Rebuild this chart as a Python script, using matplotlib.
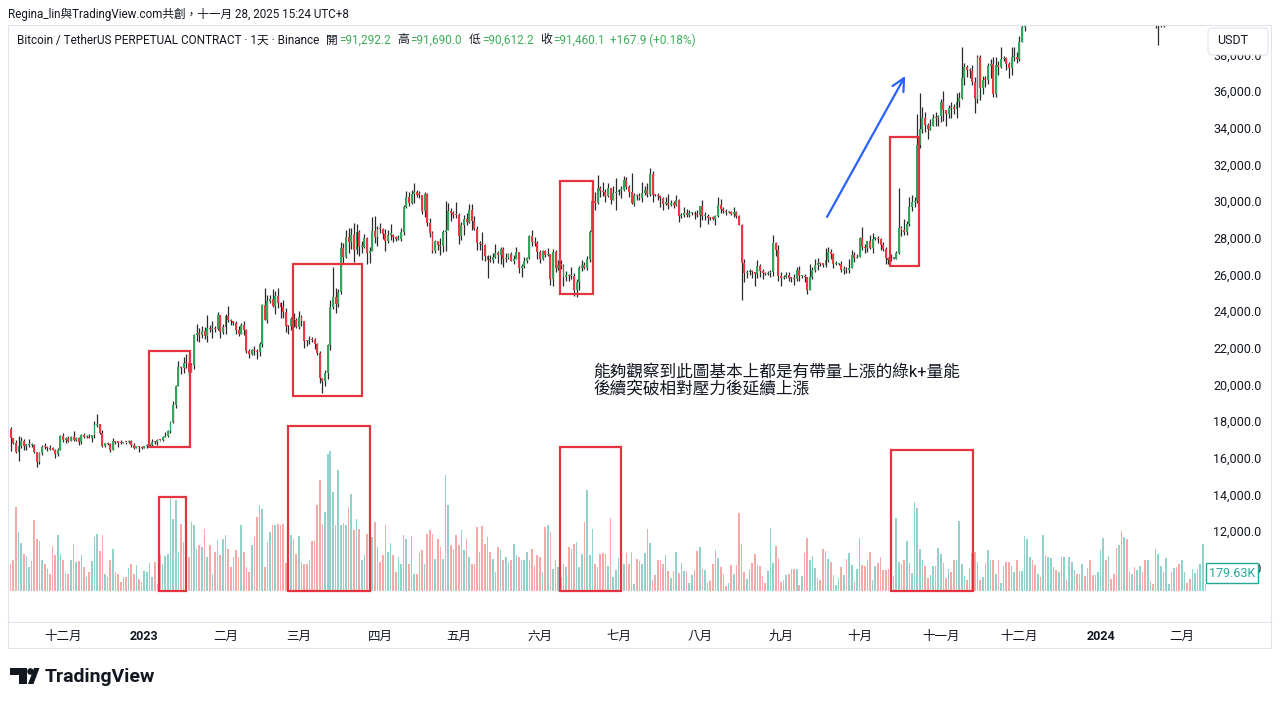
import numpy as np
import pandas as pd
import matplotlib
matplotlib.use("Agg")
import matplotlib.pyplot as plt
import matplotlib.dates as mdates
import matplotlib.transforms as mtransforms
from matplotlib.patches import Rectangle, Polygon, Circle, FancyBboxPatch
from matplotlib.lines import Line2D

plt.rcParams['font.family'] = ['Roboto', 'Noto Sans CJK TC']

# ---------------- data (daily BTCUSDT perp) ----------------
start_date = "2022-11-11"
first_open = 17580

closes = [
    # 2022-11 (from 11th)
    17070, 16810, 16330, 16620, 16900, 16660, 16690, 16700, 16700, 16280, 15780, 16230, 16600, 16590, 16520, 16460, 16440, 16220, 16440, 17160,
    # 2022-12
    16980, 17090, 16890, 17110, 16970, 17090, 16840, 17220, 17130, 17130, 17090, 17210, 17780, 17810, 17360, 16630, 16780, 16740, 16440, 16900, 16830, 16820, 16780, 16840, 16830, 16920, 16700, 16550, 16630, 16600, 16540,
    # 2023-01
    16620, 16670, 16670, 16850, 16830, 16950, 16940, 17120, 17180, 17440, 17940, 18850, 19930, 20950, 20870, 21170, 21160, 20680, 21070, 22670, 22780, 22710, 22920, 22630, 23060, 23010, 23080, 23030, 23770, 22840, 23130,
    # 2023-02
    23730, 23490, 23430, 23330, 22940, 22760, 23260, 22960, 21800, 21630, 21860, 21790, 21780, 22200, 24330, 23520, 24570, 24630, 24280, 24840, 24450, 24190, 23950, 23190, 23160, 23560, 23490, 23140,
    # 2023-03
    23650, 23470, 22360, 22350, 22430, 22410, 22200, 21710, 20360, 20190, 20630, 22160, 24200, 24750, 24380, 25050, 27420, 26970, 28040, 27770, 28170, 27300, 28330, 27490, 27490, 28000, 27140, 27270, 28350, 28030, 28470,
    # 2023-04
    28450, 28200, 27790, 28170, 28170, 28030, 27920, 27950, 28330, 29650, 30230, 29890, 30400, 30490, 30320, 30310, 29430, 30390, 28820, 28250, 27270, 27820, 27590, 27520, 28300, 28420, 29480, 29340, 29250, 29230,
    # 2023-05
    28070, 28680, 29030, 28850, 29530, 28900, 28450, 27690, 27630, 27620, 26990, 26800, 26780, 26930, 27170, 27040, 27400, 26830, 26890, 27100, 26750, 26850, 27220, 26330, 26480, 26720, 26870, 28090, 27740, 27700, 27210,
    # 2023-06
    26820, 27250, 27070, 27120, 25760, 27240, 26340, 26500, 26480, 25850, 25940, 25900, 25920, 25120, 25580, 26330, 26510, 26340, 26840, 28310, 30020, 29900, 30690, 30550, 30480, 30270, 30690, 30080, 30450, 30470,
    # 2023-07
    30590, 30620, 31160, 30770, 30510, 29900, 30350, 30290, 30170, 30410, 30620, 30390, 31480, 30330, 30300, 30250, 30140, 29860, 29910, 29800, 29910, 29800, 30080, 29180, 29230, 29350, 29210, 29320, 29360, 29280, 29230,
    # 2023-08
    29700, 29180, 29180, 29070, 29060, 29040, 29180, 29770, 29570, 29430, 29400, 29420, 29280, 29400, 29170, 28700, 26620, 26050, 26100, 26190, 26120, 26040, 26430, 26170, 26050, 26010, 26090, 26100, 27720, 27300, 25930,
    # 2023-09
    25800, 25870, 25970, 25820, 25780, 25750, 26240, 25900, 25900, 25830, 25160, 25840, 26220, 26530, 26600, 26570, 26530, 26760, 27210, 27130, 26570, 26580, 26580, 26250, 26300, 26210, 26350, 27030, 26910, 26970,
    # 2023-10
    27990, 27500, 27430, 27790, 27410, 27950, 27970, 27940, 27590, 27390, 26870, 26760, 26860, 26860, 27160, 28520, 28420, 28330, 28720, 29680, 29920, 30000, 33080, 33900, 34500, 34160, 33910, 34090, 34540, 34500, 34640,
    # 2023-11
    35420, 34940, 34730, 35080, 35050, 35040, 35420, 35630, 36700, 37320, 37140, 37070, 36490, 35550, 37880, 36160, 36600, 36590, 37390, 37480, 35810, 37420, 37290, 37720, 37800, 37480, 37250, 37830, 37860, 37720,
    # 2023-12
    38690, 39470, 39980, 41990, 44100, 43780, 43290, 44170, 43730, 43800, 41240, 41490, 42870, 43020, 41940, 42260, 41370, 42660, 42270, 43660, 43860, 43990, 43740, 43020, 43600, 42520, 43440, 42580, 42070, 42140, 42280,
    # 2024-01
    44180, 44950, 42850, 44180, 44160, 43970, 43930, 46970, 46120, 46660, 46340, 42780, 42840, 41730, 42500, 43140, 42740, 41260, 41620, 41660, 41580, 39530, 39890, 40080, 39930, 41820, 42120, 41820, 43300, 42950, 42580,
    # 2024-02
    43080, 43190, 43000, 42580, 42700, 43090, 44340, 45290, 47130, 47750,
]

highs = [
    17650, 17080, 16950, 17190, 17130, 16990, 16730, 16990, 16810, 16750, 16300, 16280, 16700, 16810, 16610, 16680, 16600, 16490, 16530, 17250,
    17320, 17110, 17160, 17200, 17430, 17110, 17140, 17300, 17360, 17230, 17270, 17240, 18000, 18390, 17850, 17530, 16800, 16860, 16810, 17060, 16910, 16860, 16950, 16860, 16850, 16940, 16960, 16780, 16660, 16640, 16640,
    16630, 16760, 16770, 17000, 16880, 17010, 16970, 17170, 17400, 17490, 18000, 19100, 19970, 21260, 21000, 21470, 21640, 21650, 21170, 22740, 23300, 23070, 23160, 23150, 23780, 23240, 23480, 23170, 23950, 23800, 23300,
    23810, 24250, 23580, 23480, 23430, 23160, 23350, 23440, 23010, 21920, 21900, 22070, 21900, 22320, 24370, 25250, 24870, 24880, 25190, 25100, 25270, 24480, 24590, 24140, 23230, 23680, 23880, 23600,
    24000, 23770, 23480, 22410, 22610, 22560, 22530, 22270, 21810, 20350, 20800, 22180, 24600, 26400, 25230, 25220, 27740, 27720, 28400, 28500, 28500, 28800, 28740, 28400, 27800, 28200, 28030, 27510, 29150, 29170, 28650,
    28800, 28530, 28480, 28430, 28750, 28200, 28100, 28170, 28520, 29760, 30550, 30480, 30600, 31000, 30600, 30550, 30340, 30480, 30420, 29090, 28370, 27880, 27820, 28000, 28390, 30000, 29880, 29600, 29450, 29960,
    29330, 28880, 29260, 29370, 29850, 29820, 29170, 28650, 27830, 28320, 27650, 27070, 27030, 27180, 27650, 27270, 27480, 27480, 27160, 27140, 27240, 27030, 27480, 27220, 26580, 26920, 26940, 28170, 28420, 28030, 27830,
    27330, 27310, 27300, 27440, 27130, 27370, 27350, 26800, 26780, 26540, 26200, 26000, 26410, 26080, 25750, 26470, 26780, 26690, 26980, 28400, 30800, 30500, 31430, 30810, 31050, 30660, 31000, 30700, 30830, 31280,
    30660, 30790, 31380, 31330, 30880, 31500, 30440, 30380, 30440, 31040, 30800, 30980, 31810, 31640, 30390, 30450, 30340, 30240, 30200, 30400, 30060, 30000, 30320, 30090, 29370, 29680, 29560, 29530, 29420, 29450, 29530,
    29740, 30050, 29410, 29310, 29110, 29160, 29240, 30200, 30130, 29690, 29540, 29460, 29440, 29660, 29430, 29240, 28770, 26820, 26250, 26270, 26250, 26130, 26800, 26550, 26300, 26120, 26170, 26230, 28140, 27760, 27580,
    26140, 25970, 26100, 26100, 25880, 26030, 26420, 26430, 25940, 25990, 25880, 26550, 26390, 26850, 26870, 26680, 26620, 27420, 27490, 27380, 27160, 26720, 26640, 26740, 26430, 26380, 26840, 27300, 27230, 27090,
    28060, 28600, 27650, 27830, 28130, 28270, 28030, 28100, 27990, 27740, 27480, 26950, 27100, 26960, 27280, 30700, 28610, 28990, 28900, 30200, 30330, 30190, 34740, 35900, 35130, 34840, 34250, 34480, 34760, 34850, 34700,
    35560, 35980, 34940, 35250, 35380, 35270, 35880, 35970, 38400, 37520, 37410, 37230, 37400, 36750, 37980, 37960, 36800, 36820, 37520, 37760, 37850, 37850, 37650, 38400, 37890, 37830, 37580, 38390, 38420, 38150,
    38990, 39700, 40200, 42420, 44490, 44300, 44050, 44700, 44370, 44050, 43800, 42100, 43450, 43410, 43090, 42720, 42440, 42760, 43480, 44280, 44220, 44400, 43980, 43950, 43780, 43600, 43680, 43790, 43120, 42600, 42880,
    44200, 45900, 45500, 44770, 44350, 44230, 44500, 47250, 47900, 47700, 48970, 46500, 43250, 43080, 43400, 43580, 43200, 42930, 42200, 41880, 41870, 41680, 40150, 40500, 40270, 42220, 42200, 42830, 43310, 43880, 43740,
    43290, 43490, 43380, 43120, 43500, 43400, 44500, 45600, 48200, 48170,
]

lows = [
    16360, 16760, 16250, 15820, 16550, 16410, 16420, 16560, 16560, 16230, 15480, 15640, 16150, 16460, 16350, 16400, 16400, 16000, 16100, 16430,
    16860, 16790, 16870, 16880, 16910, 16910, 16690, 16740, 17080, 17090, 17070, 16870, 17080, 17660, 17280, 16580, 16580, 16680, 16300, 16400, 16750, 16570, 16760, 16780, 16740, 16780, 16600, 16460, 16500, 16330, 16470,
    16500, 16550, 16600, 16650, 16750, 16680, 16900, 16910, 17100, 17150, 17320, 17900, 18720, 19890, 20560, 20610, 20880, 20430, 20660, 20860, 22360, 22300, 22520, 22470, 22330, 22870, 22550, 22850, 22980, 22550, 22730,
    22760, 23380, 23230, 23260, 22770, 22630, 22740, 22680, 21700, 21450, 21600, 21620, 21360, 21550, 22060, 23500, 23350, 24450, 24220, 23860, 24150, 23600, 23630, 22850, 22740, 22970, 23110, 23050,
    23030, 23200, 21980, 22100, 22210, 22300, 21940, 21600, 20050, 19550, 19900, 20300, 21880, 24100, 23900, 24200, 24900, 26640, 26880, 27150, 27370, 26650, 27110, 27020, 27170, 27410, 26560, 26630, 27250, 27720, 27550,
    28250, 27900, 27250, 27690, 27850, 27760, 27800, 27880, 27810, 28170, 29630, 29710, 29850, 29880, 30240, 30140, 29280, 29100, 28620, 28030, 27150, 27140, 27340, 27050, 27200, 27250, 28390, 28900, 29090, 29080,
    27680, 27880, 28120, 28680, 28820, 28400, 28400, 27330, 27350, 26790, 26750, 25800, 26690, 26600, 26880, 26590, 26560, 26380, 26650, 26850, 26700, 26540, 26820, 26080, 25870, 26350, 26620, 26850, 27560, 27570, 26850,
    26600, 26780, 26950, 26990, 25400, 25370, 26130, 26230, 26290, 25380, 25630, 25630, 25720, 24820, 24760, 25170, 26180, 26300, 26260, 26660, 28270, 29520, 29820, 30230, 30270, 29920, 30220, 29860, 30050, 29500,
    30320, 30180, 30570, 30640, 30230, 29850, 29700, 30070, 30050, 29950, 30300, 30240, 30250, 29940, 30250, 30080, 29680, 29530, 29760, 29580, 29730, 29640, 29750, 28860, 29060, 29100, 29100, 29130, 29260, 29040, 29110,
    28600, 28950, 28960, 28750, 28970, 28960, 28700, 29110, 29370, 29330, 29250, 29350, 29250, 29100, 29070, 28700, 24600, 25600, 25780, 25980, 25800, 25350, 25790, 25850, 25770, 25980, 25960, 25880, 25910, 27020, 25660,
    25340, 25730, 25800, 25620, 25570, 25400, 25610, 25650, 25800, 25590, 24900, 25140, 25760, 26130, 26230, 26480, 26410, 26390, 26670, 26850, 26370, 26500, 26530, 26120, 25990, 26080, 26090, 26330, 26670, 26890,
    26950, 27320, 27160, 27240, 27360, 27180, 27860, 27690, 27310, 27290, 26560, 26540, 26700, 26820, 26830, 27110, 28100, 28150, 28170, 28620, 29480, 29690, 29900, 32880, 33690, 33770, 33400, 33870, 34080, 34080, 34090,
    34310, 34360, 34100, 34540, 34540, 34750, 34530, 35130, 35570, 36350, 36770, 36730, 36350, 34800, 35360, 35500, 35850, 36200, 36400, 36720, 35650, 35670, 36880, 37270, 37620, 37150, 36730, 36880, 37620, 37510,
    37620, 38650, 39280, 39970, 41420, 43340, 42820, 43080, 43600, 43560, 40200, 40680, 40600, 41420, 41680, 41720, 41250, 40530, 41800, 42180, 43330, 43400, 43320, 42750, 42750, 41630, 42100, 42310, 41300, 41520, 41970,
    42180, 44200, 40750, 42650, 42600, 43400, 43650, 43200, 44300, 44750, 45600, 41500, 42440, 41720, 41700, 42050, 42200, 40680, 40280, 41450, 41490, 39440, 38500, 39500, 39490, 39810, 41400, 41650, 41800, 42700, 42300,
    41880, 42600, 42900, 42250, 42250, 42600, 42800, 44330, 45250, 46800,
]

# daily volume, thousand BTC (2022-11-11 .. 2023-07-08)
vol_first = [
    270, 310, 840, 590, 480, 370, 350, 240, 300, 710,
    520, 500, 310, 270, 220, 170, 450, 360, 560,
    370, 310, 180, 170, 310, 470, 290, 300, 360, 240,
    140, 190, 300, 540, 570, 400, 560, 170, 140, 310,
    420, 190, 170, 90, 140, 140, 230, 270, 170,
    260, 120, 90, 200, 190, 280, 140, 290, 70, 360,
    270, 350, 370, 930, 720, 910, 390, 670, 490, 340,
    340, 690, 660, 420, 460, 440, 620, 340, 460, 170,
    390, 510, 360, 520, 560, 420, 240, 340, 410,
    340, 660, 390, 240, 190, 460, 540, 740, 860, 820,
    240, 490, 590, 660, 660, 670, 660, 670, 280, 420,
    560, 520, 370, 550, 290, 270, 270, 310, 500, 500,
    860, 1110, 670, 790, 1370, 1400, 990, 660, 1210, 660,
    680, 660, 840, 970, 610, 720, 620, 310, 360, 570,
    520, 540, 690, 440, 290, 360, 660, 390, 480, 360,
    190, 340, 270, 560, 520, 270, 550, 170, 170,
    380, 410, 270, 570, 610, 570, 320, 520, 440, 320,
    1160, 860, 460, 410, 560, 460, 610, 410, 520,
    340, 270, 270, 640, 390, 650, 470, 540, 390, 320,
    190, 440, 410, 310, 340, 290, 310, 470, 360,
    340, 310, 310, 390, 310, 420, 260, 360, 340,
    190, 640, 660, 590, 220, 310, 240, 140, 270, 240,
    440, 420, 470, 490, 240, 370, 690, 1010, 360,
    620, 270, 240, 370, 380, 370, 250, 730, 140, 210,
    330, 270, 270, 380, 270, 390, 70, 320,
]
# daily volume, thousand BTC (2023-07-09 .. 2024-02-10)
vol_second = [
    300,
    270, 380, 620, 480, 110, 160, 310, 310, 270, 360,
    200, 130, 200, 390, 180, 280, 200, 200, 80, 160,
    210, 400, 440, 220, 210, 80, 100, 270, 410, 330,
    240, 170, 50, 80, 260, 170, 260, 780, 470, 190,
    120, 220, 280, 370, 260, 250, 150, 80, 200, 630,
    280, 450, 330, 90, 110, 160, 170, 220, 220, 220,
    60, 150, 380, 530, 310, 350, 230, 130, 110, 420,
    400, 320, 290, 160, 60, 130, 240, 160, 320, 380,
    260, 90, 220, 530, 260, 250, 310, 390, 110, 250,
    280, 340, 210, 210, 220, 150, 150, 730, 290, 270,
    310, 500, 280, 180, 890, 830, 420, 310, 250, 130,
    160, 250, 250, 430, 370, 280, 130, 220, 190, 310,
    310, 700, 270, 150, 110, 230, 380, 390, 290, 110,
    140, 280, 410, 310, 310, 170, 310, 80, 250, 290,
    290, 250, 190, 310, 200, 200, 550, 520, 340, 310,
    260, 170, 140, 560, 360, 340, 330, 240, 210, 190,
    340, 340, 110, 340, 290, 210, 170, 170, 270, 150,
    230, 310, 160, 160, 190, 410, 530, 310, 350, 120,
    170, 430, 460, 600, 540, 520, 190, 170, 240, 210,
    250, 190, 310, 310, 90, 70, 420, 370, 250, 190,
    330, 70, 190, 230, 240, 270, 310, 190, 80, 120,
    220, 180, 220, 270, 470, 70,
]
volumes = vol_first + vol_second
last_volume_k = 179.63

month_labels = ["十二月", "2023", "二月", "三月", "四月", "五月", "六月", "七月",
                "八月", "九月", "十月", "十一月", "十二月", "2024", "二月"]
price_ticks = list(range(10000, 40000, 2000))

# drawn annotations: (start, end, low, high) / (start, end, top)
price_boxes = [
    ("2023-01-02 19:00", "2023-01-18 12:00", 16580, 21820),
    ("2023-02-26 19:00", "2023-03-25 02:00", 19360, 26560),
    ("2023-06-08 17:00", "2023-06-21 07:00", 24930, 31090),
    ("2023-10-12 14:00", "2023-10-23 17:00", 26450, 33490),
]
volume_boxes = [
    ("2023-01-06 14:00", "2023-01-17 02:00", 940),
    ("2023-02-24 22:00", "2023-03-28 05:00", 1650),
    ("2023-06-08 17:00", "2023-07-02 00:00", 1440),
    ("2023-10-13 00:00", "2023-11-13 05:00", 1410),
]
arrow_from = ("2023-09-18 14:00", 29130)
arrow_to = ("2023-10-18 10:00", 36820)
note_pos = ("2023-06-21 08:00", 20200)
note_text = "能夠觀察到此圖基本上都是有帶量上漲的綠k+量能\n後續突破相對壓力後延續上漲"

header_title = "Regina_lin與TradingView.com共創，十一月 28, 2025 15:24 UTC+8"
symbol_text = "Bitcoin / TetherUS PERPETUAL CONTRACT · 1天 · Binance"
ohlc_header = [("開", "=91,292.2"), ("高", "=91,690.0"), ("低", "=90,612.2"), ("收", "=91,460.1")]
change_text = "+167.9 (+0.18%)"

# ---------------- style ----------------
GREEN = "#2fa65a"
RED = "#ea3943"
WICK = "#2a2a2a"
VOL_UP = "#92d2cc"
VOL_DN = "#f7a9a7"
BOX_RED = "#e5333f"
TEXT = "#131722"
HDR_GREEN = "#3dae5b"
BORDER = "#e0e3eb"

W, H = 1280, 704


def fx(p):
    return p / W


def fy(p):
    return 1 - p / H


fig = plt.figure(figsize=(12.8, 7.04), dpi=100)
fig.patch.set_facecolor("white")

ax = fig.add_axes([fx(10), fy(622), fx(1207) - fx(10), fy(25) - fy(622)])
vax = ax.twinx()
ax.yaxis.tick_right()
ax.set_zorder(2)
vax.set_zorder(1)
ax.patch.set_visible(False)

dates = pd.date_range(start_date, periods=len(closes), freq="D")
xs = mdates.date2num(dates)
c = np.array(closes, dtype=float)
o = np.concatenate([[first_open], c[:-1]])
h = np.maximum(np.array(highs, dtype=float), np.maximum(o, c))
l = np.minimum(np.array(lows, dtype=float), np.minimum(o, c))
up = c >= o

# candles
ax.vlines(xs, l, h, color=WICK, lw=0.9, zorder=2)
ax.bar(xs, np.maximum(np.abs(c - o), 60), bottom=np.minimum(o, c), width=0.74,
       color=np.where(up, GREEN, RED), linewidth=0, zorder=3)

# volume
nv = min(len(volumes), len(xs))
vax.bar(xs[:nv], volumes[:nv], width=0.62, color=np.where(up[:nv], VOL_UP, VOL_DN), linewidth=0)

x0 = xs[0]
ax.set_xlim(x0 - 0.25, x0 + 456.6)
ax.set_ylim(7033, 39600)
vax.set_ylim(-310, 5660)

for a in (ax, vax):
    for s in a.spines.values():
        s.set_visible(False)

ax.set_yticks(price_ticks)
ax.set_yticklabels([f"{v:,.1f}" for v in price_ticks])
ax.tick_params(axis="y", length=0, pad=4.5, labelsize=9, labelcolor=TEXT,
               right=True, left=False, labelright=True, labelleft=False)
vax.set_yticks([])
vax.tick_params(right=False, labelright=False)

month_starts = pd.date_range("2022-12-01", "2024-02-01", freq="MS")
ax.set_xticks(mdates.date2num(month_starts))
ax.set_xticklabels(month_labels)
ax.tick_params(axis="x", length=0, pad=5.5, labelsize=9, labelcolor=TEXT)
for lab in ax.get_xticklabels():
    if lab.get_text().isdigit():
        lab.set_fontweight("bold")

# red boxes
for s, e, lo, hi in price_boxes:
    a0, a1 = mdates.datestr2num(s), mdates.datestr2num(e)
    ax.add_patch(Rectangle((a0, lo), a1 - a0, hi - lo, fill=False, ec=BOX_RED, lw=1.6, zorder=4))
for s, e, top in volume_boxes:
    a0, a1 = mdates.datestr2num(s), mdates.datestr2num(e)
    vax.add_patch(Rectangle((a0, 0), a1 - a0, top, fill=False, ec=BOX_RED, lw=1.6, zorder=4))

# blue arrow
ax.annotate("", xy=(mdates.datestr2num(arrow_to[0]), arrow_to[1]),
            xytext=(mdates.datestr2num(arrow_from[0]), arrow_from[1]),
            arrowprops=dict(arrowstyle="->,head_length=0.9,head_width=0.45", color="#2962ff",
                            lw=1.6, shrinkA=0, shrinkB=0), zorder=5)

# note
ax.text(mdates.datestr2num(note_pos[0]), note_pos[1], note_text, fontsize=12, color=TEXT,
        ha="left", va="center", linespacing=1.12, zorder=5)

# last volume label
trans = mtransforms.blended_transform_factory(ax.transAxes, vax.transData)
ax.text(1.0 + 2 / 1197, last_volume_k, "179.63K", transform=trans, fontsize=9, color="#26a69a",
        ha="left", va="center", zorder=6,
        bbox=dict(boxstyle="square,pad=0.25", fc="white", ec="#26a69a", lw=1.0))

# panel frame
ident = mtransforms.IdentityTransform()
fig.add_artist(Rectangle((8, H - 648), 1263, 623, transform=ident, fill=False, ec=BORDER, lw=0.8, zorder=9))
fig.add_artist(Line2D([8, 1271], [H - 622, H - 622], transform=ident, color=BORDER, lw=0.8, zorder=9))

# USDT box
fig.add_artist(FancyBboxPatch((1208, H - 55), 60, 27, boxstyle="round,pad=0,rounding_size=4",
                              transform=ident, fc="white", ec=BORDER, lw=0.8, zorder=10))
fig.text(fx(1217), fy(40), "USDT", fontsize=9, color=TEXT, ha="left", va="center", zorder=11)

# header
fig.text(fx(8), fy(14), header_title, fontsize=8.4, color=TEXT, ha="left", va="center")
renderer = fig.canvas.get_renderer()
segments = [(symbol_text, TEXT, 7)]
for k, v in ohlc_header:
    segments.append((k, TEXT, 1))
    segments.append((v, HDR_GREEN, 7))
segments[-1] = (segments[-1][0], HDR_GREEN, 5)
segments.append((change_text, HDR_GREEN, 0))
xpos = 17
for s, col, gap in segments:
    t = fig.text(fx(xpos), fy(40), s, fontsize=8.5, color=col, ha="left", va="center")
    bb = t.get_window_extent(renderer)
    xpos = bb.x1 + gap

# TradingView logo
fig.add_artist(Polygon([(10, H - 668), (27, H - 668), (27, H - 684), (19, H - 684), (19, H - 675), (10, H - 675)],
                       closed=True, transform=ident, fc="#131722", ec="none"))
fig.add_artist(Circle((30.5, H - 671.5), 3.3, transform=ident, fc="#131722", ec="none"))
fig.add_artist(Polygon([(28, H - 684), (33.5, H - 684), (39.5, H - 668), (34, H - 668)],
                       closed=True, transform=ident, fc="#131722", ec="none"))
fig.text(fx(45), fy(677), "TradingView", fontsize=14, fontweight="bold", color="#131722",
         ha="left", va="center")

fig.savefig("out.png", dpi=100, facecolor="white")
